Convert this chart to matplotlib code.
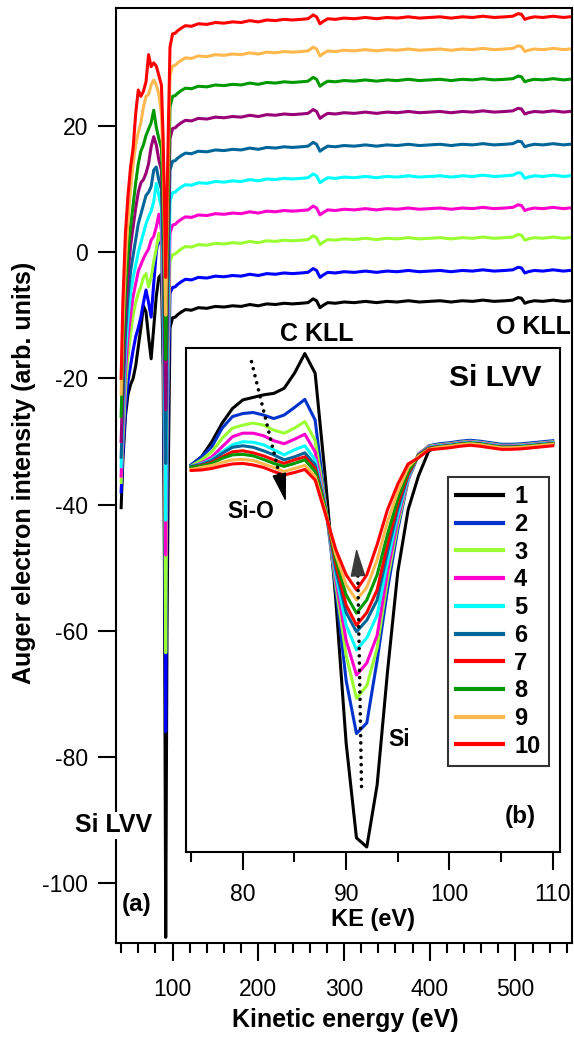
import matplotlib
matplotlib.use('Agg')
import matplotlib.pyplot as plt
from matplotlib.ticker import MultipleLocator

plt.rcParams['font.family'] = ['Liberation Sans', 'DejaVu Sans']
plt.rcParams['axes.unicode_minus'] = False

# ---------------- main panel (a): full spectra ----------------
ke_low = [40, 42, 45, 48, 51, 54, 57, 60, 63, 66, 69, 72, 75, 78, 81, 84,
          87, 89, 90.5, 92, 93.5, 95, 97]

low_1 = [-40.5, -33, -26, -22.5, -21, -20, -18, -15, -12, -8.5, -9.5, -13.5,
         -16.9, -12, -7, -4, -3.5, -18, -50, -108.6, -60, -35, -12]
low_2 = [-38, -32, -25, -20.5, -18, -15.5, -13.4, -12, -10.3, -8, -6, -8,
         -10.3, -5, 0, 2.4, 1, -12, -35, -76, -40, -22, -6.5]
low_3 = [-36.5, -30, -22, -16.5, -13, -10, -8, -6.5, -5.5, -4, -3.4, -5.5,
         -4, -1.5, 0.5, 3, 1.5, -10, -30, -63.5, -30, -16, -1.5]
low_4 = [-35.5, -28, -19, -13.5, -10, -7, -5, -3, -2, -1, -0.2, 0.5,
         1.9, 2.5, 4, 6, 3.5, -7, -25, -48, -25, -11, 3]
low_5 = [-34, -26, -16, -10.5, -6.5, -4, -2, 0, 1.5, 3, 4.5, 5.6,
         6.5, 8, 10.9, 9, 7, -4, -20, -42.5, -20, -7, 8]
low_6 = [-32.5, -24, -13, -7, -3, -0.5, 2, 4.5, 6, 7.5, 9, 9.5,
         10.4, 13, 13.5, 11.4, 10, 0, -15, -33.5, -15, -2, 13]
low_7 = [-30, -21, -10, -3.5, 1, 4, 7, 9.5, 11, 11.5, 12.5, 14,
         16.7, 18.3, 17, 14.6, 13, 4, -10, -25, -10, 4, 18]
low_8 = [-26, -16, -6, 0, 4, 7.5, 11, 14, 16, 17, 18.5, 19.5,
         20.5, 22.5, 19.8, 18, 16.5, 8, -3, -17, -3, 9, 23]
low_9 = [-22.5, -12, -2, 5, 10, 14, 17, 19, 20.5, 23, 24.7, 25,
         26.5, 27.3, 26.5, 25, 22, 14, 3, -10, 3, 15, 28]
low_10 = [-20, -8, 3, 9, 13.5, 16.5, 22, 25.7, 24.7, 25.5, 27, 31.3,
          29.4, 30, 29.5, 28, 26.5, 18, 8, -4, 8, 19, 32.5]

ke_tail = [100, 103, 106, 110, 115, 122, 130, 140, 150, 160, 170, 180, 190,
           200, 210, 220, 230, 240, 250, 258, 264, 268, 272, 276, 281, 290,
           300, 312, 325, 338, 350, 362, 375, 388, 400, 412, 425, 438, 450,
           462, 475, 488, 497, 503, 507, 511, 515, 522, 532, 544, 556, 563]
tail_shape = [-2.7, -2.6, -2.2, -1.8, -1.4, -1.5, -1.1, -1.2, -0.9, -1.0,
              -0.8, -0.9, -0.6, -0.8, -0.5, -0.6, -0.4, -0.5, -0.4, -0.3,
              0.3, 0.0, -1.1, -0.7, -0.3, -0.4, -0.2, -0.3, -0.1, -0.3,
              -0.1, -0.2, 0.0, -0.2, -0.1, 0.0, -0.2, 0.0, -0.1, 0.1, -0.1,
              0.0, 0.1, 0.5, 0.4, -0.4, -0.2, 0.0, -0.1, 0.1, -0.1, 0.0]
# plateau level of each stacked spectrum (1 = bottom, 10 = top)
tail_level = [-7.7, -2.9, 2.3, 7.0, 12.1, 17.1, 22.3, 27.4, 32.2, 37.3]

low_all = [low_1, low_2, low_3, low_4, low_5, low_6, low_7, low_8, low_9, low_10]
main_colors = ['#000000', '#0000ff', '#99ff33', '#ff00cc', '#00ffff',
               '#006699', '#990077', '#009900', '#ffb84d', '#ff0000']

# ---------------- inset panel (b): Si LVV ----------------
ke_in = list(range(75, 99))
in_1 = [76.8, 78.4, 81.4, 85.1, 88.0, 89.7, 90.2, 90.7, 91.0, 92.0, 95.0, 98.9,
        95.0, 74.0, 50.0, 21.6, 2.8, 1.0, 13.3, 35.7, 55.6, 67.9, 74.6, 79.6]
in_2 = [76.8, 78.4, 80.4, 84.1, 86.4, 87.0, 87.2, 86.7, 86.0, 86.7, 88.2, 89.8,
        85.7, 69.0, 52.0, 34.0, 23.5, 25.6, 38.0, 52.0, 64.0, 73.8, 78.8, 80.6]
in_3 = [76.6, 77.8, 79.4, 82.1, 84.1, 84.7, 85.1, 84.7, 83.7, 83.1, 84.1, 85.4,
        81.7, 69.0, 53.0, 39.0, 30.5, 33.0, 40.5, 54.0, 65.0, 73.9, 79.0, 80.5]
in_4 = [76.5, 77.2, 78.4, 80.4, 82.4, 83.1, 83.1, 82.6, 81.6, 81.0, 81.9, 82.9,
        79.4, 68.7, 54.0, 42.0, 35.1, 37.5, 43.0, 55.5, 66.0, 74.0, 79.0, 80.4]
in_5 = [76.5, 77.0, 77.9, 79.4, 80.8, 81.4, 81.3, 80.8, 79.8, 78.8, 79.8, 80.6,
        77.8, 68.5, 55.0, 45.0, 40.1, 42.5, 47.0, 57.5, 67.0, 74.3, 78.9, 80.3]
in_6 = [76.5, 76.9, 77.7, 79.1, 80.3, 80.6, 80.3, 79.6, 78.8, 77.8, 78.4, 79.2,
        76.8, 68.3, 56.0, 47.5, 43.7, 46.0, 50.0, 59.5, 68.0, 74.7, 78.8, 80.2]
in_7 = [76.3, 76.7, 77.3, 78.4, 79.4, 79.6, 79.2, 78.6, 77.8, 77.1, 77.8, 78.4,
        76.1, 68.0, 57.0, 49.0, 45.0, 47.5, 52.0, 61.0, 69.0, 75.0, 78.7, 80.1]
in_8 = [76.3, 76.6, 77.1, 78.1, 78.8, 78.9, 78.6, 77.9, 77.1, 76.5, 77.1, 77.8,
        75.5, 68.0, 58.0, 51.0, 47.4, 50.0, 55.0, 63.0, 70.0, 75.5, 78.6, 80.0]
in_9 = [75.9, 76.3, 76.7, 77.3, 77.8, 77.9, 77.7, 77.0, 76.3, 75.5, 76.1, 76.7,
        74.5, 67.5, 59.0, 53.0, 50.0, 52.5, 58.0, 65.5, 71.5, 76.3, 78.5, 79.9]
in_10 = [75.7, 75.8, 76.1, 76.6, 77.0, 77.1, 76.8, 76.3, 75.5, 74.8, 75.3, 75.9,
         73.8, 67.0, 60.0, 55.0, 52.0, 55.0, 61.0, 67.9, 73.0, 77.0, 78.2, 79.8]

ke_in_tail = list(range(99, 111))
in_tail_shape = [-0.2, 0.0, 0.3, 0.5, 0.3, 0.0, -0.3, -0.3, -0.2, 0.0, 0.2, 0.4]
in_tail_level = [80.6, 81.2, 81.0, 80.9, 80.8, 80.7, 80.6, 80.6, 80.5, 80.2]

in_all = [in_1, in_2, in_3, in_4, in_5, in_6, in_7, in_8, in_9, in_10]
in_colors = ['#000000', '#0033cc', '#99ff33', '#ff00cc', '#00ffff',
             '#006699', '#ff0000', '#009900', '#ffb84d', '#ff0000']
in_labels = ['1', '2', '3', '4', '5', '6', '7', '8', '9', '10']

W, H = 574, 1040


def px(x, y):
    # pixel position -> figure fraction
    return x / W, 1 - y / H


fig = plt.figure(figsize=(W / 100, H / 100), dpi=100)

# main axes
ax = fig.add_axes([116 / W, (H - 943) / H, 456 / W, 935 / H])
for i in range(10):
    x = ke_low + ke_tail
    y = low_all[i] + [tail_level[i] + s for s in tail_shape]
    ax.plot(x, y, color=main_colors[i], lw=2.2, solid_joinstyle='round')

ax.set_xlim(34, 566)
ax.set_ylim(-109.5, 38.7)
ax.xaxis.set_minor_locator(MultipleLocator(20))
ax.yaxis.set_major_locator(MultipleLocator(20))
ax.set_xticks([100, 200, 300, 400, 500])
ax.tick_params(which='major', direction='out', length=13, width=1.5,
               labelsize=16.5, top=False, right=False)
ax.tick_params(axis='x', which='major', pad=12)
ax.tick_params(axis='y', which='major', pad=7)
ax.tick_params(which='minor', direction='out', length=7, width=1.5)
for sp in ax.spines.values():
    sp.set_linewidth(1.5)
ax.set_xlabel('Kinetic energy (eV)', fontsize=18, fontweight='bold')
ax.set_ylabel('Auger electron intensity (arb. units)', fontsize=18,
              fontweight='bold')
ax.xaxis.set_label_coords(0.502, -0.069)
ax.yaxis.set_label_coords(-0.175, 0.5027)

# inset axes
ax_in = fig.add_axes([186 / W, (H - 852) / H, 374 / W, 504 / H])
for i in range(10):
    x = ke_in + ke_in_tail
    y = in_all[i] + [in_tail_level[i] + s for s in in_tail_shape]
    ax_in.plot(x, y, color=in_colors[i], lw=2.2, label=in_labels[i])
ax_in.set_xlim(74.5, 110.7)
ax_in.set_ylim(0, 100)
ax_in.set_yticks([])
ax_in.xaxis.set_major_locator(MultipleLocator(10))
ax_in.xaxis.set_minor_locator(MultipleLocator(5))
ax_in.tick_params(which='major', direction='out', length=13, width=1.5,
                  labelsize=16.5, pad=9)
ax_in.tick_params(which='minor', direction='out', length=7, width=1.5)
for sp in ax_in.spines.values():
    sp.set_linewidth(1.5)
ax_in.set_xlabel('KE (eV)', fontsize=17, fontweight='bold')
ax_in.xaxis.set_label_coords(0.5, -0.112)

leg = ax_in.legend(loc='upper left', bbox_to_anchor=(448 / W, 1 - 477 / H),
                   bbox_transform=fig.transFigure,
                   prop={'weight': 'bold', 'size': 17}, frameon=True,
                   fancybox=False, handlelength=2.0, handletextpad=0.45,
                   labelspacing=0.2, borderpad=0.35, borderaxespad=0)
leg.get_frame().set_edgecolor('black')
leg.get_frame().set_linewidth(1.5)
for ln in leg.get_lines():
    ln.set_linewidth(3)

# dotted arrows
dots = (0, (0.01, 2.0))
ax_in.plot([80.84, 83.58], [97.3, 74.5], color='k', lw=2.6, linestyle=dots,
           dash_capstyle='round')
ax_in.annotate('', xy=(84.16, 69.5), xytext=(83.58, 74.5),
               arrowprops=dict(arrowstyle='-|>,head_length=1.2,head_width=0.3',
                               color='k', lw=1, shrinkA=0, shrinkB=0,
                               mutation_scale=15))
ax_in.plot([91.49, 91.13], [13.0, 55.4], color='k', lw=2.6, linestyle=dots,
           dash_capstyle='round')
ax_in.annotate('', xy=(91.0, 60.3), xytext=(91.13, 55.4),
               arrowprops=dict(arrowstyle='-|>,head_length=1.2,head_width=0.32',
                               color='#3a3a3a', lw=1, shrinkA=0, shrinkB=0,
                               mutation_scale=15))

# annotations
bold = dict(fontweight='bold', ha='center', va='center')
fig.text(*px(317, 334), 'C KLL', fontsize=18, **bold)
fig.text(*px(533, 327), 'O KLL', fontsize=18, **bold)
fig.text(*px(495, 378), 'Si LVV', fontsize=21.5, **bold)
fig.text(*px(251, 511), 'Si-O', fontsize=16.5, **bold)
fig.text(*px(399, 739), 'Si', fontsize=16.5, **bold)
fig.text(*px(520, 817), '(b)', fontsize=17.5, **bold)
fig.text(*px(137, 905), '(a)', fontsize=17.5, **bold)
fig.text(*px(114, 825), 'Si LVV', fontsize=18, zorder=10,
         bbox=dict(facecolor='white', edgecolor='none', pad=1), **bold)

fig.savefig('out.png', dpi=100)
